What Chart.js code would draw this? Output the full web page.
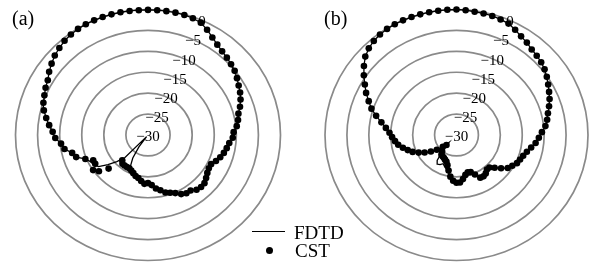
<!DOCTYPE html>
<html><head><meta charset="utf-8">
<script src="https://cdn.jsdelivr.net/npm/chart.js@4.4.1/dist/chart.umd.min.js"></script>
<style>
html,body{margin:0;padding:0;background:#fff;width:592px;height:269px;overflow:hidden}
#wrap{position:relative;width:592px;height:269px}
canvas{position:absolute;top:0}
.lab{position:absolute;font-family:"Liberation Serif",serif;color:#000;white-space:nowrap;line-height:1}
#legLine{position:absolute;left:252px;top:231px;width:33px;height:0;border-top:1.4px solid #000}
#legDot{position:absolute;left:266px;top:247px;width:7px;height:7px;border-radius:50%;background:#000}
</style></head><body>
<div id="wrap">
<canvas id="ca" width="296" height="269" style="left:0"></canvas>
<canvas id="cb" width="296" height="269" style="left:296px"></canvas>
<div class="lab" style="left:12px;top:8px;font-size:20px">(a)</div>
<div class="lab" style="left:324px;top:8px;font-size:20px">(b)</div>
<div id="legLine"></div>
<div class="lab" style="left:294px;top:223px;font-size:19px">FDTD</div>
<div id="legDot"></div>
<div class="lab" style="left:295px;top:241px;font-size:19px">CST</div>
</div>
<script>
// ---- data (angle in degrees clockwise from top, values in dB) ----
const ANGLES = [0,4,8,12,16,20,24,28,32,36,40,44,48,52,56,60,64,68,72,76,80,84,88,92,96,100,104,108,112,116,120,124,128,132,136,140,144,148,152,156,160,164,168,172,176,180,184,188,192,196,200,204,208,212,216,220,224,228,232,236,240,244,248,252,256,260,264,268,272,276,280,284,288,292,296,300,304,308,312,316,320,324,328,332,336,340,344,348,352,356];
const RING_TICKS = [-30,-25,-20,-15,-10,-5,0];
const R_MIN = -30, R_MAX = 0;

const A_CST = [-0.1,-0.1,-0.1,-0.1,-0.15,-0.3,-0.6,-1.5,-2.5,-3.3,-3.9,-4.3,-4.7,-5.1,-5.7,-6.3,-6.8,-7.4,-8.1,-8.9,-9.3,-9.8,-10.6,-10.8,-11.5,-11.9,-12.3,-12.8,-13.4,-14.1,-14.1,-13.8,-13.3,-12.8,-12.7,-12.9,-13.6,-13.6,-14,-14.8,-15.3,-15.7,-16.5,-17.1,-18,-18.5,-18.3,-18.9,-19.5,-19.8,-20.3,-20.7,-21,-21,-21,-21,-21.6,-18,-15.9,-15,-16.2,-16.2,-14.7,-12.9,-12.3,-10.8,-10.2,-9,-8.4,-7.5,-6.6,-5.7,-5.1,-4.7,-4.2,-3.8,-3,-2.3,-1.6,-1.1,-0.6,-0.3,-0.1,0,0,0,0,0,-0.05,-0.1];
const A_FDTD = [-0.1,-0.1,-0.1,-0.1,-0.15,-0.3,-0.6,-1.5,-2.5,-3.3,-3.9,-4.3,-4.7,-5.1,-5.7,-6.3,-6.8,-7.4,-8.1,-8.9,-9.3,-9.8,-10.6,-10.8,-11.5,-11.9,-12.3,-12.8,-13.4,-14.1,-14.1,-13.8,-13.3,-12.8,-12.7,-12.9,-13.6,-13.6,-14,-14.8,-15.3,-15.7,-16.5,-17.1,-18,-18.5,-18.3,-18.9,-19.5,-19.8,-20.5,-21,-21.5,-23.5,-26.5,-29.5,-22.5,-20.5,-18.5,-16.5,-15.8,-15.5,-14.7,-12.9,-12.3,-10.8,-10.2,-9,-8.4,-7.5,-6.6,-5.7,-5.1,-4.7,-4.2,-3.8,-3,-2.3,-1.6,-1.1,-0.6,-0.3,-0.1,0,0,0,0,0,-0.05,-0.1];
const B_CST = [0,-0.1,-0.25,-0.3,-0.4,-0.6,-0.85,-1.5,-2.2,-2.7,-3.3,-3.65,-4,-4.5,-5.15,-5.85,-6.5,-7.1,-7.8,-8.5,-9,-9.6,-10.5,-11.2,-11.85,-12.7,-13.45,-14,-14.35,-14.65,-15.3,-15.9,-17.1,-18.3,-19.2,-19.2,-18.65,-18.35,-18.45,-19.65,-20.55,-20.7,-20.25,-19.35,-18.6,-18.6,-19.05,-19.95,-21.3,-22.5,-23.25,-23.55,-23.85,-24,-24.15,-24.9,-26.7,-25.8,-24.3,-22.95,-21.6,-20.4,-19.2,-18.3,-17.4,-16.5,-15.9,-15.3,-14.7,-13.8,-12.6,-11.1,-9.6,-8.4,-7.05,-5.85,-4.5,-3.2,-2,-1.2,-0.65,-0.3,-0.1,0,0,0,0,0,0,0];
const B_FDTD = [0,-0.1,-0.25,-0.3,-0.4,-0.6,-0.85,-1.5,-2.2,-2.7,-3.3,-3.65,-4,-4.5,-5.15,-5.85,-6.5,-7.1,-7.8,-8.5,-9,-9.6,-10.5,-11.2,-11.85,-12.7,-13.45,-14,-14.35,-14.65,-15.3,-15.9,-17.1,-18.3,-19.2,-19.2,-18.65,-18.35,-18.45,-19.65,-20.55,-20.7,-20.25,-19.35,-18.6,-18.6,-19.05,-19.95,-21,-21.5,-22,-22.5,-22,-21.8,-22.5,-25,-27.5,-25.5,-24.3,-22.95,-21.6,-20.4,-19.2,-18.3,-17.4,-16.5,-15.9,-15.3,-14.7,-13.8,-12.6,-11.1,-9.6,-8.4,-7.05,-5.85,-4.5,-3.2,-2,-1.2,-0.65,-0.3,-0.1,0,0,0,0,0,0,0];

const LABEL_ANGLE = 24;

function toXY(angles, db){
  return angles.map((a,i)=>{
    const r=(db[i]-R_MIN)/(R_MAX-R_MIN);
    const t=a*Math.PI/180;
    return {x:r*Math.sin(t), y:r*Math.cos(t)};
  });
}
function fmt(v){ return v<0 ? '\u2212'+Math.abs(v) : String(v); }

const polarGrid = {
  id:'polarGrid',
  beforeDatasetsDraw(chart){
    const {ctx} = chart; const xs=chart.scales.x, ys=chart.scales.y;
    const cx=xs.getPixelForValue(0), cy=ys.getPixelForValue(0);
    ctx.save();
    ctx.strokeStyle='#8a8a8a'; ctx.lineWidth=1.7;
    RING_TICKS.forEach(v=>{
      const r=(v-R_MIN)/(R_MAX-R_MIN);
      if(r<=0) return;
      const rx=xs.getPixelForValue(r)-cx, ry=cy-ys.getPixelForValue(r);
      ctx.beginPath(); ctx.ellipse(cx,cy,rx,ry,0,0,2*Math.PI); ctx.stroke();
    });
    ctx.fillStyle='#000';
    ctx.font='15px "Liberation Serif", serif';
    ctx.textAlign='center'; ctx.textBaseline='middle';
    const a=LABEL_ANGLE*Math.PI/180;
    RING_TICKS.forEach(v=>{
      const r=(v-R_MIN)/(R_MAX-R_MIN);
      const px=xs.getPixelForValue(r*Math.sin(a)), py=ys.getPixelForValue(r*Math.cos(a));
      ctx.fillText(fmt(v), px, py+2);
    });
    ctx.restore();
  }
};

function makeChart(id, cst, fdtd, pad){
  const linePts = toXY(ANGLES, fdtd); linePts.push(linePts[0]);
  return new Chart(document.getElementById(id), {
    type:'scatter',
    data:{datasets:[
      {label:'CST', data:toXY(ANGLES,cst), showLine:false, pointRadius:3.3, pointBackgroundColor:'#000', pointBorderWidth:0, clip:false},
      {label:'FDTD', data:linePts, showLine:true, pointRadius:0, borderColor:'#000', borderWidth:1.3, clip:false, tension:0}
    ]},
    options:{
      responsive:false, animation:false, events:[],
      layout:{padding:pad},
      scales:{x:{type:'linear',min:-1,max:1,display:false}, y:{type:'linear',min:-1,max:1,display:false}},
      plugins:{legend:{display:false}, tooltip:{enabled:false}}
    },
    plugins:[polarGrid]
  });
}
makeChart('ca', A_CST, A_FDTD, {left:15.5,right:15.5,top:9.5,bottom:8.5});
makeChart('cb', B_CST, B_FDTD, {left:29,right:2,top:9.5,bottom:8.5});
</script>
</body></html>
